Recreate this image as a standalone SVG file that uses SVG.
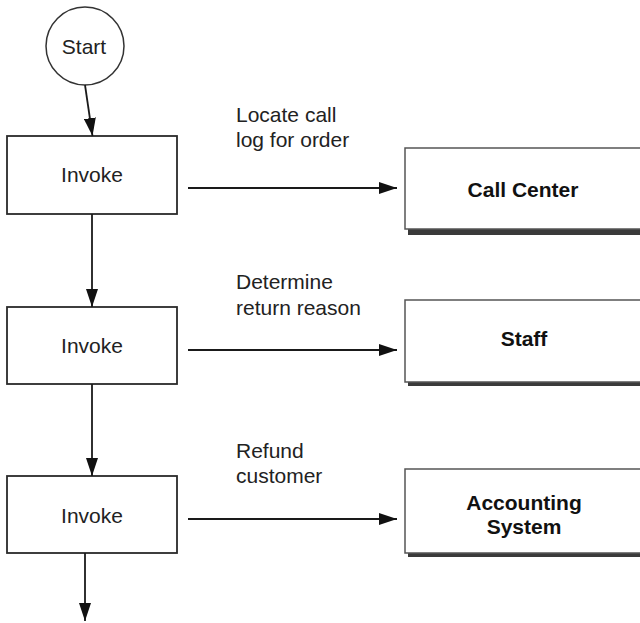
<svg xmlns="http://www.w3.org/2000/svg" width="640" height="623" viewBox="0 0 640 623">
<style>
  .bg { fill: #ffffff; }
  .box { fill: #ffffff; stroke: #2a2a2a; stroke-width: 1.8; }
  .sbox { fill: #ffffff; stroke: #555555; stroke-width: 1.5; }
  .shadow { fill: #3a3a3a; }
  .node-text { font-family: "Liberation Sans", Arial, sans-serif; font-size: 21px; fill: #222222; text-anchor: middle; }
  .bold-text { font-family: "Liberation Sans", Arial, sans-serif; font-size: 21px; font-weight: bold; fill: #111111; text-anchor: middle; }
  .label { font-family: "Liberation Sans", Arial, sans-serif; font-size: 21px; fill: #222222; }
  .conn { stroke: #1a1a1a; stroke-width: 1.8; fill: none; marker-end: url(#arrow); }
</style>
<defs>
  <marker id="arrow" markerUnits="userSpaceOnUse" markerWidth="18" markerHeight="12" refX="18" refY="6" orient="auto">
    <path d="M0,0 L18,6 L0,12 z" fill="#111111"/>
  </marker>
</defs>
<rect class="bg" x="0" y="0" width="640" height="623"/>

<g id="start">
  <circle cx="85" cy="46" r="39" fill="#ffffff" stroke="#333333" stroke-width="1.5"/>
  <text class="node-text" x="84" y="54">Start</text>
</g>

<g id="invoke1">
  <rect class="box" x="7" y="136" width="170" height="78"/>
  <text class="node-text" x="92" y="182">Invoke</text>
</g>

<g id="invoke2">
  <rect class="box" x="7" y="307" width="170" height="77"/>
  <text class="node-text" x="92" y="353">Invoke</text>
</g>

<g id="invoke3">
  <rect class="box" x="7" y="476" width="170" height="77"/>
  <text class="node-text" x="92" y="523">Invoke</text>
</g>

<g id="call-center">
  <rect class="shadow" x="408" y="152" width="240" height="83"/>
  <rect class="sbox" x="405" y="148" width="240" height="81"/>
  <text class="bold-text" x="523" y="197">Call Center</text>
</g>

<g id="staff">
  <rect class="shadow" x="408" y="304" width="240" height="82"/>
  <rect class="sbox" x="405" y="300" width="240" height="82"/>
  <text class="bold-text" x="524" y="346">Staff</text>
</g>

<g id="accounting">
  <rect class="shadow" x="408" y="473" width="240" height="84"/>
  <rect class="sbox" x="405" y="469" width="240" height="84"/>
  <text class="bold-text" x="524" y="510">Accounting</text>
  <text class="bold-text" x="524" y="534">System</text>
</g>

<g id="connectors">
  <line class="conn" x1="85" y1="85" x2="92.5" y2="136"/>
  <line class="conn" x1="92" y1="214" x2="92" y2="307"/>
  <line class="conn" x1="92" y1="384" x2="92" y2="476"/>
  <line class="conn" x1="85" y1="553" x2="85" y2="621"/>
  <line class="conn" x1="188" y1="188" x2="397" y2="188"/>
  <line class="conn" x1="188" y1="350" x2="397" y2="350"/>
  <line class="conn" x1="188" y1="519" x2="397" y2="519"/>
  <text class="label" x="236" y="122">Locate call</text>
  <text class="label" x="236" y="147">log for order</text>
  <text class="label" x="236" y="289">Determine</text>
  <text class="label" x="236" y="315">return reason</text>
  <text class="label" x="236" y="458">Refund</text>
  <text class="label" x="236" y="483">customer</text>
</g>
</svg>
